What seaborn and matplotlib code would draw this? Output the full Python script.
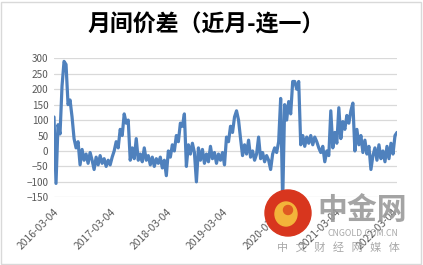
import numpy as np
import pandas as pd
import matplotlib
matplotlib.use("Agg")
import matplotlib.pyplot as plt
from matplotlib.patches import Ellipse, Rectangle
import seaborn as sns

title = "月间价差（近月-连一）"
start_date = "2016-03-04"
tick_labels = ["2016-03-04", "2017-03-04", "2018-03-04", "2019-03-04",
               "2020-03-04", "2021-03-04", "2022-03-04"]
y_ticks = [300, 250, 200, 150, 100, 50, 0, -50, -100, -150]

spread = [
    110, -105, 85, 55, 210, 290, 280, 150, 165, 110,
    40, 10, 30, -45, 5, -30, -10, -40, -5, -30,
    -60, -20, -45, -15, -40, -25, -50, -30, -45, -20,
    0, 30, 10, 70, 50, 120, 90, 100, -30, 10,
    -25, 40, -30, -10, -35, 10, -30, -15, -45, -20,
    -50, -25, -40, -20, -55, -30, -80, 0, -20, 20,
    0, 50, 30, 90, 80, 120, -50, 20, -10, 25,
    -5, -100, 10, -30, 5, -40, -10, -35, 15, -25,
    -5, -40, -10, -30, -5, -45, 45, 30, 80, 60,
    110, 130, 100, 40, -15, 20, -10, 35, -20, 0,
    -30, -10, 45, -25, -5, -35, -15, -30, -60, -10,
    10, -5, 30, 170, -165, 150, 100, 160, 120, 225,
    225, 200, 225, 20, 50, 15, 45, 25, 50, 20,
    45, 30, 10, -5, 15, -35, 0, -15, 130, 10,
    60, 25, 140, 40, 95, 70, 115, 90, 130, 155,
    0, 70, 20, 50, -5, 35, -10, 15, -60, -15,
    10, -30, 20, -25, 0, -35, 15, -25, 25, -10,
    50, 60,
]

dates = pd.date_range(start_date, periods=len(spread), freq="13D")
df = pd.DataFrame({"date": dates, "spread": spread})

sns.set_theme(style="white")
plt.rcParams["font.family"] = ["Noto Sans CJK SC", "DejaVu Sans"]

W, H = 423, 265
fig = plt.figure(figsize=(W / 100, H / 100), dpi=100)
ax = fig.add_axes([54 / W, 1 - 197.3 / H, (397 - 54) / W, (197.3 - 58.3) / H])

sns.lineplot(data=df, x="date", y="spread", ax=ax, color="#4F81BD", linewidth=2.3)

ax.set_ylim(-150, 300)
ax.set_yticks(y_ticks)
ax.set_xlim(dates[0], dates[-1])
ax.set_xticks(pd.to_datetime(tick_labels))
ax.set_xticklabels(tick_labels, rotation=45, ha="right", rotation_mode="anchor")
ax.tick_params(axis="x", labelsize=7.4, colors="#595959", length=0, pad=7)
ax.tick_params(axis="y", labelsize=7.2, colors="#595959", length=0, pad=4)
ax.set_xlabel("")
ax.set_ylabel("")
ax.grid(axis="y", color="#D9D9D9", linewidth=0.9)
ax.set_axisbelow(True)
for s in ax.spines.values():
    s.set_visible(False)

fig.text(206 / W, 1 - 25 / H, title, ha="center", va="center",
         fontsize=16.5, fontweight="bold", color="black")

# chart frame
fig.patches.append(Rectangle((0.002, 0.004), 0.993, 0.99, transform=fig.transFigure,
                             fill=False, edgecolor="#D9D9D9", linewidth=1))

# watermark
fig.patches.append(Ellipse((288 / W, 1 - 213 / H), 46 / W, 46 / H,
                           transform=fig.transFigure, color="#D8361E", zorder=5))
fig.patches.append(Ellipse((286 / W, 1 - 214 / H), 22 / W, 24 / H,
                           transform=fig.transFigure, color="#F3B43A", zorder=6))
fig.patches.append(Ellipse((288 / W, 1 - 210 / H), 9 / W, 9 / H,
                           transform=fig.transFigure, color="#E05A22", zorder=7))
fig.text(362 / W, 1 - 210 / H, "中金网", ha="center", va="center",
         fontsize=21.5, fontweight="bold", color="#9A9A9A", alpha=0.9, zorder=5)
fig.text(363 / W, 1 - 234 / H, "CNGOLD.COM.CN", ha="center", va="center",
         fontsize=6.3, color="#A0A0A0", alpha=0.9, zorder=5)
fig.text(338 / W, 1 - 247 / H, "中   文   财   经   网   媒   体", ha="center", va="center",
         fontsize=8, color="#A0A0A0", alpha=0.9, zorder=5)

fig.savefig("out.png", dpi=100)
